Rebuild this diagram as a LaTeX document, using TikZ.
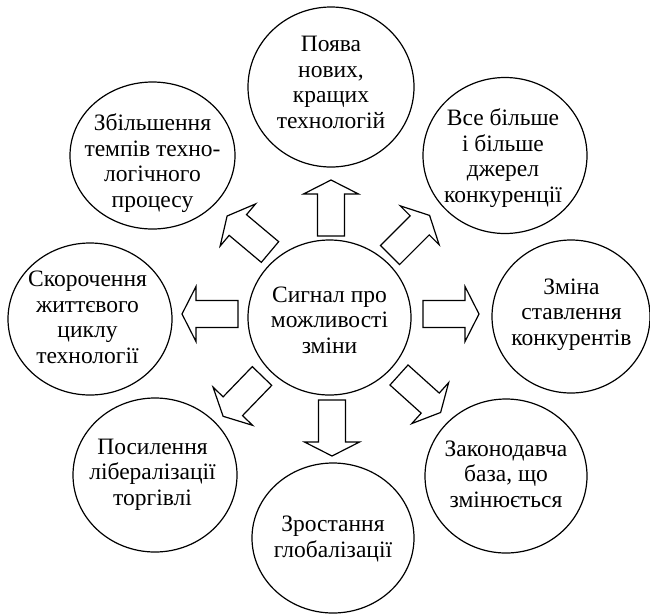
\documentclass[tikz,border=0pt]{standalone}
\usepackage{fontspec}
\setmainfont{Liberation Serif}
\usetikzlibrary{shapes.geometric}
\tikzset{
  bub/.style={draw, ellipse, line width=1.2pt, inner sep=0pt},
  lab/.style={align=center, inner sep=0pt, anchor=base,
    font=\fontsize{23.5}{25.5}\selectfont},
  arr/.style={draw, line width=1.2pt, line join=miter, fill=white},
}
\newcommand\blockarr[3]{\draw[arr, shift={(#1,#2)}, rotate=#3]
  (0,-13.5)--(42,-13.5)--(42,-27.5)--(56,0)--(42,27.5)--(42,13.5)--(0,13.5)--cycle;}
\begin{document}
\begin{tikzpicture}[x=1pt,y=-1pt]
\useasboundingbox (0,0) rectangle (650,614);
\node[bub, minimum width=163pt, minimum height=155pt] (c) at (329.5,317.5) {};
\node[bub, minimum width=166pt, minimum height=160pt] (n) at (331,87) {};
\node[bub, minimum width=165pt, minimum height=147pt] (nw) at (152.5,155.5) {};
\node[bub, minimum width=164pt, minimum height=156pt] (ne) at (505,155.5) {};
\node[bub, minimum width=164pt, minimum height=152pt] (w) at (90,319) {};
\node[bub, minimum width=158pt, minimum height=153pt] (e) at (571,316.5) {};
\node[bub, minimum width=164pt, minimum height=154pt] (sw) at (155,475) {};
\node[bub, minimum width=162pt, minimum height=150pt] (s) at (333,538) {};
\node[bub, minimum width=162pt, minimum height=154pt] (se) at (506,476) {};
\node[lab] (ct) at (329.5,353) {Сигнал про\\можливості\\зміни};
\node[lab] (nt) at (331,128) {Поява\\нових,\\кращих\\технологій};
\node[lab] (nwt) at (152.5,207) {Збільшення\\темпів техно-\\логічного\\процесу};
\node[lab] (net) at (503,202) {Все більше\\і більше\\джерел\\конкуренції};
\node[lab] (wt) at (87.5,363) {Скорочення\\життєвого\\циклу\\технології};
\node[lab] (et) at (571.5,345) {Зміна\\ставлення\\конкурентів};
\node[lab] (swt) at (152.5,505) {Посилення\\лібералізації\\торгівлі};
\node[lab] (st) at (333,557) {Зростання\\глобалізації};
\node[lab] (set) at (506,507) {Законодавча\\база, що\\змінюється};
\blockarr{331}{236}{90}
\blockarr{332}{400}{-90}
\blockarr{423}{314}{0}
\blockarr{238}{314}{180}
\blockarr{390}{255}{45}
\blockarr{270}{252}{140}
\blockarr{262}{376}{-134}
\blockarr{399}{375}{-42}
\end{tikzpicture}
\end{document}
